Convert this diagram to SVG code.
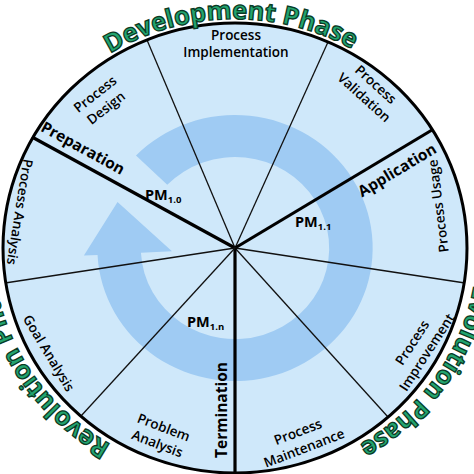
<svg xmlns="http://www.w3.org/2000/svg" width="474" height="474" viewBox="0 0 474 474">
  <style>
    .lbl { font-family: "Open Sans", "Liberation Sans", sans-serif; font-weight: 600; font-size: 13.5px; fill: #000; text-anchor: middle; }
    .phase { font-family: "Open Sans", "Liberation Sans", sans-serif; font-weight: 700; font-size: 15.5px; fill: #000; text-anchor: middle; }
    .pm { font-family: "Open Sans", "Liberation Sans", sans-serif; font-weight: 700; font-size: 14.5px; fill: #000; }
    .sub { font-size: 9.5px; }
    .outer { font-family: "Open Sans", "Liberation Sans", sans-serif; font-weight: 700; font-size: 25.5px; fill: #22a46f; stroke: #0a3a24; stroke-width: 1.3px; }
    .thin { stroke: #111; stroke-width: 1.3; }
    .thick { stroke: #000; stroke-width: 3.2; }
  </style>
  <defs>
    <path id="arcTop" d="M -2,248 A 237 229 0 0 1 472,248 A 237 229 0 0 1 -2,248"/>
    <path id="arcBot" d="M 235,477 A 242 229 0 0 1 235,19 A 242 229 0 0 1 235,477"/>
  </defs>
  <rect width="474" height="474" fill="#fff"/>

  <g id="wheel">
    <ellipse cx="235" cy="248" rx="232" ry="225" fill="#cfe8fa"/>
    <g transform="translate(235,248) scale(1.035,1)">
      <path id="cycle-arrow" fill="#9fcbf3" d="M -95.67,-92.39 A 133 133 0 1 1 -132.82,6.96 L -146,7.6 L -113.5,-46 L -60.9,3.2 L -90.88,4.76 A 91 91 0 1 0 -65.46,-63.21 Z"/>
    </g>
  </g>

  <g id="connectors">
    <line class="thick" x1="235" y1="248" x2="32" y2="137"/>
    <line class="thin" x1="235" y1="248" x2="147" y2="40"/>
    <line class="thin" x1="235" y1="248" x2="328" y2="42"/>
    <line class="thick" x1="235" y1="248" x2="432" y2="130"/>
    <line class="thin" x1="235" y1="248" x2="465" y2="283"/>
    <line class="thin" x1="235" y1="248" x2="388" y2="417"/>
    <line class="thick" x1="235" y1="248" x2="235" y2="473"/>
    <line class="thin" x1="235" y1="248" x2="81" y2="416"/>
    <line class="thin" x1="235" y1="248" x2="5" y2="283"/>
  </g>
  <ellipse cx="235" cy="248" rx="232" ry="225" fill="none" stroke="#000" stroke-width="3"/>

  <g id="development-phase">
    <text class="outer"><textPath href="#arcTop" startOffset="24.7%" text-anchor="middle">Development Phase</textPath></text>
  </g>
  <g id="revolution-phase">
    <text class="outer"><textPath href="#arcBot" startOffset="8.75%" text-anchor="start">Revolution Phase</textPath></text>
  </g>
  <g id="evolution-phase">
    <text class="outer"><textPath href="#arcBot" startOffset="91.25%" text-anchor="end">Evolution Phase</textPath></text>
  </g>

  <g id="process-implementation">
    <text class="lbl"><tspan x="236" y="39.5">Process</tspan><tspan x="236" y="56.5">Implementation</tspan></text>
  </g>
  <g id="process-design" transform="translate(100.5,101) rotate(-38)">
    <text class="lbl"><tspan x="0" y="-4">Process</tspan><tspan x="0" y="13.5">Design</tspan></text>
  </g>
  <g id="process-validation" transform="translate(370,91) rotate(42)">
    <text class="lbl"><tspan x="0" y="-4">Process</tspan><tspan x="0" y="13.5">Validation</tspan></text>
  </g>
  <g id="process-usage" transform="translate(438,206) rotate(-97)">
    <text class="lbl" x="0" y="5">Process Usage</text>
  </g>
  <g id="process-improvement" transform="translate(419.5,347.5) rotate(-57)">
    <text class="lbl"><tspan x="0" y="-4">Process</tspan><tspan x="0" y="13.5">Improvement</tspan></text>
  </g>
  <g id="process-maintenance" transform="translate(301,440) rotate(-21)">
    <text class="lbl"><tspan x="0" y="-4">Process</tspan><tspan x="0" y="13.5">Maintenance</tspan></text>
  </g>
  <g id="problem-analysis" transform="translate(160.5,435.5) rotate(21)">
    <text class="lbl"><tspan x="0" y="-4">Problem</tspan><tspan x="0" y="13.5">Analysis</tspan></text>
  </g>
  <g id="goal-analysis" transform="translate(49,353) rotate(59)">
    <text class="lbl" x="0" y="5">Goal Analysis</text>
  </g>
  <g id="process-analysis" transform="translate(20,212) rotate(99)">
    <text class="lbl" x="0" y="5">Process Analysis</text>
  </g>

  <g id="preparation" transform="translate(83,148) rotate(28.7)">
    <text class="phase" x="0" y="5.5">Preparation</text>
  </g>
  <g id="application" transform="translate(397,170) rotate(-31)">
    <text class="phase" x="0" y="5.5">Application</text>
  </g>
  <g id="termination" transform="translate(221,410) rotate(-90)">
    <text class="phase" x="0" y="5.5">Termination</text>
  </g>

  <g id="pm-1-0"><text class="pm" x="145" y="200">PM<tspan class="sub" dy="3">1.0</tspan></text></g>
  <g id="pm-1-1"><text class="pm" x="295" y="227">PM<tspan class="sub" dy="3">1.1</tspan></text></g>
  <g id="pm-1-n"><text class="pm" x="187" y="327">PM<tspan class="sub" dy="3">1.n</tspan></text></g>
</svg>
